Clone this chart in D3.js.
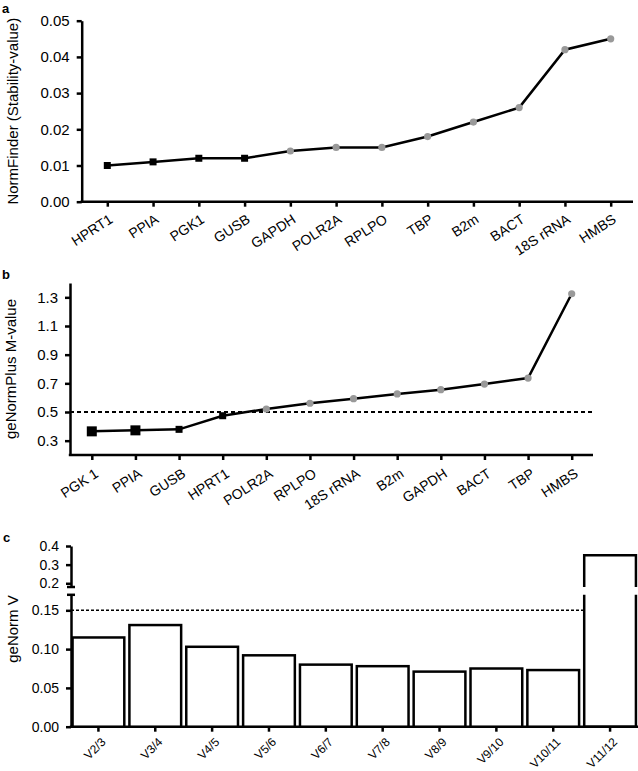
<!DOCTYPE html>
<html lang="en">
<head>
<meta charset="UTF-8">
<script src="https://cdn.jsdelivr.net/npm/d3@7"></script>
<title>Reference gene stability</title>
<style>
    body { margin: 0; background: #fff; }
    svg { display: block; font-family: 'Liberation Sans', Arial, sans-serif; }
    .axis path, .axis line { stroke: #000; stroke-width: 2.5px; }
    .axis text { fill: #000; }
    .panel-label { font-weight: bold; font-size: 13px; }
</style>
</head>
<body>
<svg id="chart" width="638" height="771"></svg>
<script>
    // panel a - NormFinder
    const genesA = ["HPRT1", "PPIA", "PGK1", "GUSB", "GAPDH", "POLR2A", "RPLPO", "TBP", "B2m", "BACT", "18S rRNA", "HMBS"];
    const stabilityA = [0.010, 0.011, 0.012, 0.012, 0.014, 0.015, 0.015, 0.018, 0.022, 0.026, 0.042, 0.045];
    const markerA = ["square", "square", "square", "square", "circle", "circle", "circle", "circle", "circle", "circle", "circle", "circle"];
    const ticksA = [0, 0.01, 0.02, 0.03, 0.04, 0.05];

    // panel b - geNormPlus
    const genesB = ["PGK 1", "PPIA", "GUSB", "HPRT1", "POLR2A", "RPLPO", "18S rRNA", "B2m", "GAPDH", "BACT", "TBP", "HMBS"];
    const mValueB = [0.365, 0.372, 0.379, 0.474, 0.521, 0.561, 0.593, 0.626, 0.656, 0.695, 0.737, 1.325];
    const markerB = ["big", "big", "square", "square", "circle", "circle", "circle", "circle", "circle", "circle", "circle", "circle"];
    const ticksB = [0.3, 0.5, 0.7, 0.9, 1.1, 1.3];
    const cutoffB = 0.5;

    // panel c - geNorm pairwise V
    const pairsC = ["V2/3", "V3/4", "V4/5", "V5/6", "V6/7", "V7/8", "V8/9", "V9/10", "V10/11", "V11/12"];
    const vValueC = [0.115, 0.131, 0.103, 0.092, 0.080, 0.078, 0.071, 0.075, 0.073, 0.350];
    const ticksCLow = [0, 0.05, 0.10, 0.15];
    const ticksCHigh = [0.2, 0.3, 0.4];
    const cutoffC = 0.15;

    const svg = d3.select("#chart");

    function linePanel(opts) {
        const g = svg.append("g");
        const x = d3.scalePoint().domain(opts.genes).range(opts.xRange);
        const y = d3.scaleLinear().domain(opts.yDomain).range(opts.yRange);

        g.append("g").attr("class", "axis")
            .attr("transform", `translate(${opts.axisX},0)`)
            .call(d3.axisLeft(y).tickValues(opts.ticks).tickFormat(d3.format(opts.fmt))
                .tickSize(5).tickSizeOuter(0).tickPadding(7))
            .selectAll("text").style("font-size", "15px");

        const xa = g.append("g").attr("class", "axis")
            .attr("transform", `translate(0,${opts.yRange[0]})`)
            .call(d3.axisBottom(x).tickSize(5).tickSizeOuter(0));
        xa.select(".domain").remove();
        xa.append("line")
            .attr("x1", opts.axisX - 1.2).attr("x2", opts.axisEnd)
            .attr("y1", 0).attr("y2", 0);
        xa.selectAll("text")
            .style("font-size", "14px")
            .attr("text-anchor", "end")
            .attr("x", null).attr("y", null).attr("dy", null)
            .attr("transform", `translate(${opts.labelOffset[0]},${opts.labelOffset[1]}) rotate(-33)`);

        if (opts.cutoff !== undefined) {
            g.append("line")
                .attr("x1", opts.axisX).attr("x2", opts.axisEnd)
                .attr("y1", y(opts.cutoff)).attr("y2", y(opts.cutoff))
                .attr("stroke", "#000").attr("stroke-width", 2.2)
                .attr("stroke-dasharray", "4,3");
        }

        const line = d3.line().x(d => x(d.gene)).y(d => y(d.v));
        const pts = opts.genes.map((gene, i) => ({ gene, v: opts.values[i], m: opts.markers[i] }));

        g.append("path").datum(pts)
            .attr("d", line)
            .attr("fill", "none")
            .attr("stroke", "#000")
            .attr("stroke-width", 2.5);

        g.selectAll("circle.pt").data(pts.filter(d => d.m === "circle"))
            .enter().append("circle")
            .attr("class", "pt")
            .attr("cx", d => x(d.gene)).attr("cy", d => y(d.v))
            .attr("r", 3.6).attr("fill", "#999");

        const sq = { square: 7, big: 10 };
        g.selectAll("rect.pt").data(pts.filter(d => d.m !== "circle"))
            .enter().append("rect")
            .attr("class", "pt")
            .attr("x", d => x(d.gene) - sq[d.m] / 2).attr("y", d => y(d.v) - sq[d.m] / 2)
            .attr("width", d => sq[d.m]).attr("height", d => sq[d.m])
            .attr("fill", "#000");

        g.append("text")
            .attr("transform", `translate(${opts.titleX},${(opts.yRange[0] + opts.yRange[1]) / 2}) rotate(-90)`)
            .attr("text-anchor", "middle")
            .style("font-size", "15px")
            .text(opts.title);

        g.append("text").attr("class", "panel-label")
            .attr("x", 2).attr("y", opts.labelY)
            .text(opts.label);
    }

    linePanel({
        genes: genesA, values: stabilityA, markers: markerA, ticks: ticksA, fmt: ".2f",
        xRange: [107.3, 610.7], yDomain: [0, 0.05], yRange: [201.7, 20.7],
        axisX: 81.7, axisEnd: 633, labelOffset: [6, 20],
        title: "NormFinder (Stability-value)", titleX: 18, label: "a", labelY: 12.5
    });

    linePanel({
        genes: genesB, values: mValueB, markers: markerB, ticks: ticksB, fmt: ".1f",
        xRange: [91.8, 571.7], yDomain: [0.2, 1.4], yRange: [455, 283],
        axisX: 70, axisEnd: 593, labelOffset: [7, 21], cutoff: cutoffB,
        title: "geNormPlus M-value", titleX: 16, label: "b", labelY: 279
    });

    // panel c - bar chart with broken y axis
    const gc = svg.append("g");
    const axisXC = 71;
    const xC = d3.scaleBand().domain(pairsC).range([70, 638.5]).paddingInner(0.09).paddingOuter(0.045);
    const yLow = d3.scaleLinear().domain([0, 0.17]).range([726.7, 594.8]);
    const yHigh = d3.scaleLinear().domain([0.18, 0.4]).range([587, 546]);
    const lowMax = yLow.domain()[1];
    const highMin = yHigh.domain()[0];

    const yaLow = gc.append("g").attr("class", "axis")
        .attr("transform", `translate(${axisXC},0)`)
        .call(d3.axisLeft(yLow).tickValues(ticksCLow).tickFormat(d3.format(".2f"))
            .tickSize(5).tickSizeOuter(0).tickPadding(7));
    const yaHigh = gc.append("g").attr("class", "axis")
        .attr("transform", `translate(${axisXC},0)`)
        .call(d3.axisLeft(yHigh).tickValues(ticksCHigh).tickFormat(d3.format(".1f"))
            .tickSize(5).tickSizeOuter(0).tickPadding(7));
    gc.selectAll(".axis text").style("font-size", "14px");
    // break caps
    yaLow.append("line").attr("x1", -4).attr("x2", 4).attr("y1", yLow(lowMax)).attr("y2", yLow(lowMax));
    yaHigh.append("line").attr("x1", -4).attr("x2", 4).attr("y1", yHigh(highMin)).attr("y2", yHigh(highMin));

    const xaC = gc.append("g").attr("class", "axis")
        .attr("transform", `translate(0,${yLow(0)})`)
        .call(d3.axisBottom(xC).tickSize(5).tickSizeOuter(0));
    xaC.select(".domain").remove();
    xaC.append("line").attr("x1", axisXC - 1.2).attr("x2", 638).attr("y1", 0).attr("y2", 0);
    xaC.selectAll("text")
        .style("font-size", "12px")
        .attr("text-anchor", "end")
        .attr("x", null).attr("y", null).attr("dy", null)
        .attr("transform", "translate(8,16) rotate(-45)");

    const bars = pairsC.map((p, i) => ({ p, v: vValueC[i] }));

    gc.append("line")
        .attr("x1", axisXC).attr("x2", xC(pairsC[pairsC.length - 1]))
        .attr("y1", yLow(cutoffC)).attr("y2", yLow(cutoffC))
        .attr("stroke", "#000").attr("stroke-width", 1.6)
        .attr("stroke-dasharray", "3,2");

    gc.selectAll("rect.bar").data(bars.filter(d => d.v <= lowMax))
        .enter().append("rect")
        .attr("class", "bar")
        .attr("x", d => xC(d.p)).attr("width", xC.bandwidth())
        .attr("y", d => yLow(d.v)).attr("height", d => yLow(0) - yLow(d.v))
        .attr("fill", "#fff").attr("stroke", "#000").attr("stroke-width", 2.5);

    // bars that cross the break are drawn in two pieces
    const tall = bars.filter(d => d.v > lowMax);
    gc.selectAll("path.top").data(tall).enter().append("path")
        .attr("d", d => `M${xC(d.p)},${yHigh(highMin)}V${yHigh(d.v)}H${xC(d.p) + xC.bandwidth()}V${yHigh(highMin)}`)
        .attr("fill", "none").attr("stroke", "#000").attr("stroke-width", 2.5);
    gc.selectAll("path.bot").data(tall).enter().append("path")
        .attr("d", d => `M${xC(d.p)},${yLow(lowMax)}V${yLow(0)}H${xC(d.p) + xC.bandwidth()}V${yLow(lowMax)}`)
        .attr("fill", "none").attr("stroke", "#000").attr("stroke-width", 2.5);

    gc.append("text")
        .attr("transform", "translate(18,629) rotate(-90)")
        .attr("text-anchor", "middle")
        .style("font-size", "15px")
        .text("geNorm V");

    gc.append("text").attr("class", "panel-label")
        .attr("x", 3).attr("y", 542)
        .text("c");
</script>
</body>
</html>
